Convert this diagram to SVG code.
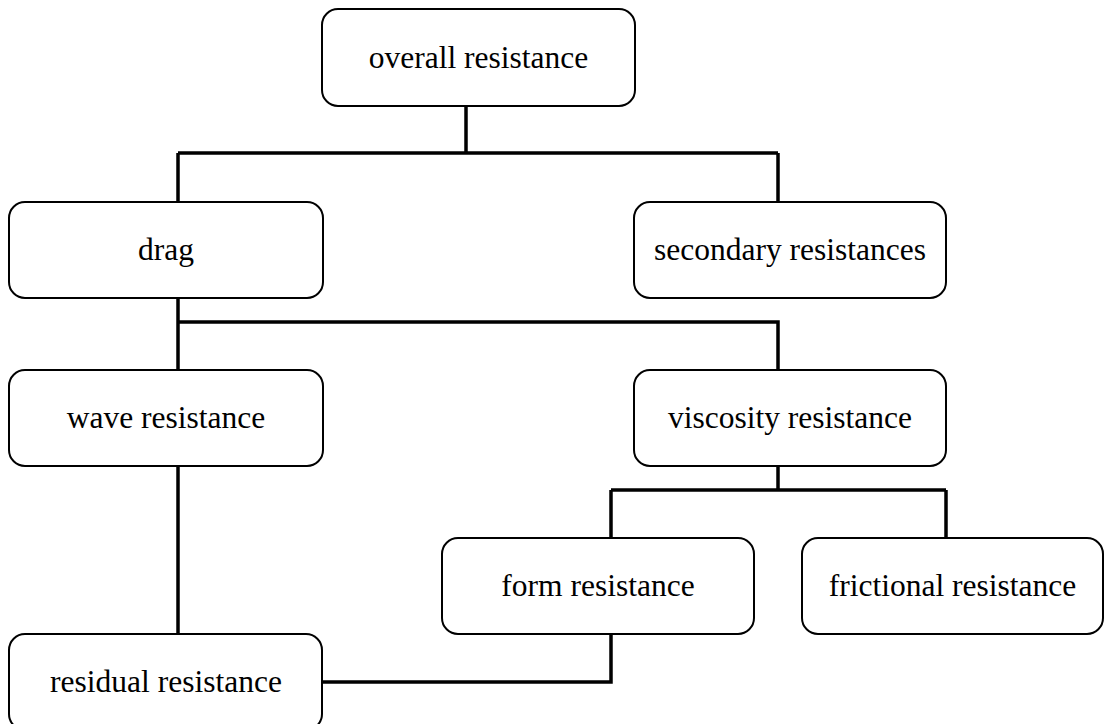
<svg xmlns="http://www.w3.org/2000/svg" width="1105" height="724" viewBox="0 0 1105 724">
<style>
.box{fill:#fff;stroke:#000;stroke-width:2}
.lbl{font-family:"Liberation Serif","Times New Roman",serif;font-size:31.5px;fill:#000;text-anchor:middle}
.conn{fill:none;stroke:#000;stroke-width:3.5}
</style>
<rect width="1105" height="724" fill="#fff"/>
<g id="connectors">
<path class="conn" d="M466 106 V153 M178 153 H778 M178 153 V202 M778 153 V202"/>
<path class="conn" d="M178 298 V370 M178 322 H778 V370"/>
<path class="conn" d="M178 466 V634"/>
<path class="conn" d="M778 466 V490 M611 490 H946 M611 490 V538 M946 490 V538"/>
<path class="conn" d="M611 634 V682 H322"/>
</g>
<g id="overall"><rect class="box" x="322" y="9" width="313" height="97" rx="16"/><text class="lbl" x="478.5" y="68">overall resistance</text></g>
<g id="drag"><rect class="box" x="9" y="202" width="314" height="96" rx="16"/><text class="lbl" x="166" y="260">drag</text></g>
<g id="secondary"><rect class="box" x="634" y="202" width="312" height="96" rx="16"/><text class="lbl" x="790" y="260">secondary resistances</text></g>
<g id="wave"><rect class="box" x="9" y="370" width="314" height="96" rx="16"/><text class="lbl" x="166" y="428">wave resistance</text></g>
<g id="viscosity"><rect class="box" x="634" y="370" width="312" height="96" rx="16"/><text class="lbl" x="790" y="428">viscosity resistance</text></g>
<g id="form"><rect class="box" x="442" y="538" width="312" height="96" rx="16"/><text class="lbl" x="598" y="596">form resistance</text></g>
<g id="frictional"><rect class="box" x="802" y="538" width="301" height="96" rx="16"/><text class="lbl" x="952.5" y="596">frictional resistance</text></g>
<g id="residual"><rect class="box" x="9" y="634" width="313" height="96" rx="16"/><text class="lbl" x="166" y="692">residual resistance</text></g>
</svg>
